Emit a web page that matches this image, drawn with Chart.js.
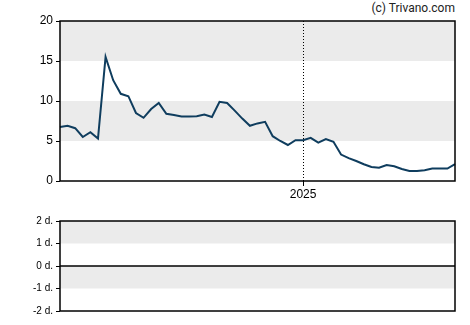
<!DOCTYPE html>
<html>
<head>
<meta charset="utf-8">
<script src="https://cdn.jsdelivr.net/npm/chart.js@4/dist/chart.umd.min.js"></script>
<style>
body { margin: 0; background: #fff; width: 470px; height: 325px; position: relative; overflow: hidden; }
#copy { position: absolute; right: 15px; top: 1px; font: 12px Roboto, sans-serif; color: #222; }
#top { position: absolute; left: 0; top: 1px; }
#bot { position: absolute; left: 0; top: 206px; }
</style>
</head>
<body>
<div id="copy">(c) Trivano.com</div>
<canvas id="top" width="470" height="200"></canvas>
<canvas id="bot" width="470" height="119"></canvas>
<script>
// weekly closes
const dates = [
    '2024-05-24', '2024-05-31', '2024-06-07', '2024-06-14', '2024-06-21', '2024-06-28',
    '2024-07-05', '2024-07-12', '2024-07-19', '2024-07-26', '2024-08-02', '2024-08-09',
    '2024-08-16', '2024-08-23', '2024-08-30', '2024-09-06', '2024-09-13', '2024-09-20',
    '2024-09-27', '2024-10-04', '2024-10-11', '2024-10-18', '2024-10-25', '2024-11-01',
    '2024-11-08', '2024-11-15', '2024-11-22', '2024-11-29', '2024-12-06', '2024-12-13',
    '2024-12-20', '2024-12-27', '2025-01-03', '2025-01-10', '2025-01-17', '2025-01-24',
    '2025-01-31', '2025-02-07', '2025-02-14', '2025-02-21', '2025-02-28', '2025-03-07',
    '2025-03-14', '2025-03-21', '2025-03-28', '2025-04-04', '2025-04-11', '2025-04-18',
    '2025-04-25', '2025-05-02', '2025-05-09', '2025-05-16', '2025-05-23'
]
const prices = [
    6.75, 6.9, 6.6, 5.5, 6.1, 5.3, 15.5, 12.6, 10.9, 10.6, 8.5, 7.9, 9.0, 9.75,
    8.4, 8.25, 8.05, 8.05, 8.1, 8.3, 8.0, 9.9, 9.75, 8.8, 7.8, 6.9, 7.2, 7.4,
    5.6, 5.0, 4.5, 5.1, 5.1, 5.4, 4.8, 5.25, 4.9, 3.3, 2.85, 2.5, 2.1, 1.75,
    1.65, 2.0, 1.85, 1.5, 1.25, 1.25, 1.35, 1.55, 1.55, 1.55, 2.1
]
const priceTicks = [0, 5, 10, 15, 20]
const dayTicks = [-2, -1, 0, 1, 2]
const yearLabel = '2025'
const yearIdx = dates.findIndex(d => d.startsWith(yearLabel))

const tickFont = { family: 'Liberation Sans, Arial, sans-serif', size: 12 }

const panel = {
    id: 'panel',
    beforeDraw(chart, args, opts) {
        const { ctx, chartArea: a, scales: { y } } = chart
        ctx.save()
        ctx.fillStyle = '#ebebeb'
        opts.bands.forEach(([lo, hi]) => {
            const y1 = y.getPixelForValue(hi)
            const y2 = y.getPixelForValue(lo)
            ctx.fillRect(a.left, y1, a.right - a.left, y2 - y1)
        })
        ctx.restore()
    },
    beforeDatasetsDraw(chart, args, opts) {
        const { ctx, chartArea: a, scales: { x, y } } = chart
        ctx.save()
        ctx.strokeStyle = '#000'
        if (opts.marker != null) {
            const px = Math.round(x.getPixelForValue(opts.marker)) + 0.5
            ctx.lineWidth = 1
            ctx.setLineDash([1, 2])
            ctx.beginPath()
            ctx.moveTo(px, a.top)
            ctx.lineTo(px, a.bottom)
            ctx.stroke()
            ctx.setLineDash([])
        }
        if (opts.zero) {
            const py = Math.round(y.getPixelForValue(0))
            ctx.lineWidth = 1.5
            ctx.beginPath()
            ctx.moveTo(a.left, py)
            ctx.lineTo(a.right, py)
            ctx.stroke()
        }
        ctx.restore()
    },
    afterDraw(chart) {
        const { ctx, chartArea: a } = chart
        ctx.save()
        ctx.strokeStyle = '#000'
        ctx.lineWidth = 1.5
        ctx.strokeRect(a.left, a.top, a.right - a.left, a.bottom - a.top)
        ctx.restore()
    }
}

var topChart = new Chart(document.getElementById('top'), {
    type: 'line',
    data: {
        labels: dates,
        datasets: [{
            data: prices,
            borderColor: '#0f3d5e',
            borderWidth: 2,
            pointRadius: 0,
            tension: 0
        }]
    },
    options: {
        responsive: false,
        animation: false,
        layout: { padding: { top: 20, right: 15, left: 0, bottom: 0 } },
        plugins: {
            legend: { display: false },
            tooltip: { enabled: false },
            panel: { bands: [[5, 10], [15, 20]], marker: yearIdx }
        },
        scales: {
            x: {
                ticks: {
                    autoSkip: false,
                    maxRotation: 0,
                    padding: 1,
                    color: '#000',
                    font: tickFont,
                    callback: (v, i) => i === yearIdx ? yearLabel : ''
                },
                grid: {
                    drawOnChartArea: false,
                    tickLength: 5,
                    tickColor: c => c.index === yearIdx ? '#000' : 'rgba(0,0,0,0)'
                },
                border: { display: false },
                afterFit: s => { s.height = 20 }
            },
            y: {
                min: 0,
                max: 20,
                afterBuildTicks: s => { s.ticks = priceTicks.map(v => ({ value: v })) },
                ticks: { color: '#000', font: tickFont, padding: 3 },
                grid: { drawOnChartArea: false, tickLength: 4, color: '#000' },
                border: { display: false },
                afterFit: s => { s.width = 60 }
            }
        }
    },
    plugins: [panel]
})

var botChart = new Chart(document.getElementById('bot'), {
    type: 'line',
    data: {
        labels: dates,
        datasets: [{ data: [], borderWidth: 0, pointRadius: 0 }]
    },
    options: {
        responsive: false,
        animation: false,
        layout: { padding: { top: 15, right: 15, left: 0, bottom: 14 } },
        plugins: {
            legend: { display: false },
            tooltip: { enabled: false },
            panel: { bands: [[-1, 0], [1, 2]], zero: true }
        },
        scales: {
            x: { display: false },
            y: {
                min: -2,
                max: 2,
                afterBuildTicks: s => { s.ticks = dayTicks.map(v => ({ value: v })) },
                ticks: {
                    color: '#000',
                    font: { family: 'Liberation Sans, Arial, sans-serif', size: 10 },
                    padding: 3,
                    callback: v => v + ' d.'
                },
                grid: { drawOnChartArea: false, tickLength: 4, color: '#000' },
                border: { display: false },
                afterFit: s => { s.width = 60 }
            }
        }
    },
    plugins: [panel]
})
</script>
</body>
</html>
